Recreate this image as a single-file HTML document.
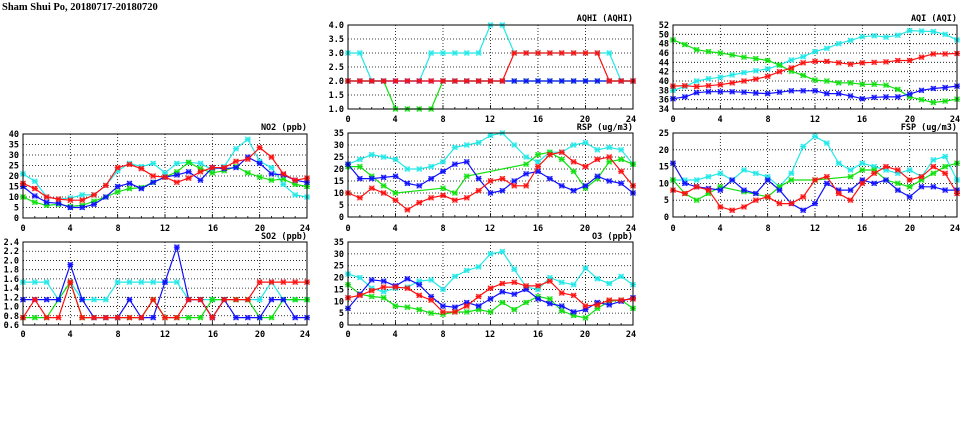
<!DOCTYPE html>
<html><head><meta charset="utf-8"><style>
body{margin:0;background:#fff;}
svg{display:block;font-family:"DejaVu Sans Mono","Liberation Mono",monospace;font-weight:bold;}
.t{font-size:8.5px;fill:#000;}
.yl{text-anchor:end;}
.xl{text-anchor:middle;}
.ti{text-anchor:end;font-size:8.5px;}
</style></head><body>
<svg id="s" width="975" height="447" viewBox="0 0 975 447" xmlns="http://www.w3.org/2000/svg">
<rect width="975" height="447" fill="#fff"/>
<g id="g"></g>
<text x="2" y="10" style="font-family:'Liberation Serif',serif;font-size:10.5px;font-weight:bold">Sham Shui Po, 20180717-20180720</text>
<g class="t">
<text class="ti" x="633" y="21">AQHI (AQHI)</text>
<text class="ti" x="957" y="21">AQI (AQI)</text>
<text class="ti" x="307" y="130">NO2 (ppb)</text>
<text class="ti" x="633" y="130">RSP (ug/m3)</text>
<text class="ti" x="957" y="130">FSP (ug/m3)</text>
<text class="ti" x="307" y="239">SO2 (ppb)</text>
<text class="ti" x="633" y="239">O3 (ppb)</text>
<g class="xl">
<text x="23" y="231">0</text><text x="70" y="231">4</text><text x="118" y="231">8</text><text x="165" y="231">12</text><text x="213" y="231">16</text><text x="260" y="231">20</text><text x="305" y="231">24</text>
<text x="23" y="337">0</text><text x="70" y="337">4</text><text x="118" y="337">8</text><text x="165" y="337">12</text><text x="213" y="337">16</text><text x="260" y="337">20</text><text x="305" y="337">24</text>
<text x="348" y="122">0</text><text x="395" y="122">4</text><text x="443" y="122">8</text><text x="490" y="122">12</text><text x="538" y="122">16</text><text x="585" y="122">20</text><text x="631" y="122">24</text>
<text x="348" y="231">0</text><text x="395" y="231">4</text><text x="443" y="231">8</text><text x="490" y="231">12</text><text x="538" y="231">16</text><text x="585" y="231">20</text><text x="631" y="231">24</text>
<text x="348" y="337">0</text><text x="395" y="337">4</text><text x="443" y="337">8</text><text x="490" y="337">12</text><text x="538" y="337">16</text><text x="585" y="337">20</text><text x="631" y="337">24</text>
<text x="673" y="122">0</text><text x="720" y="122">4</text><text x="768" y="122">8</text><text x="815" y="122">12</text><text x="862" y="122">16</text><text x="910" y="122">20</text><text x="955" y="122">24</text>
<text x="673" y="231">0</text><text x="720" y="231">4</text><text x="768" y="231">8</text><text x="815" y="231">12</text><text x="862" y="231">16</text><text x="910" y="231">20</text><text x="955" y="231">24</text>
</g>
<g class="yl">
<text x="19" y="137">40</text><text x="19" y="147.5">35</text><text x="19" y="158">30</text><text x="19" y="168.5">25</text><text x="19" y="179">20</text><text x="19" y="189.5">15</text><text x="19" y="200">10</text><text x="19" y="210.5">5</text><text x="19" y="221">0</text>
<text x="19" y="245">2.4</text><text x="19" y="254.2">2.2</text><text x="19" y="263.4">2.0</text><text x="19" y="272.7">1.8</text><text x="19" y="281.9">1.6</text><text x="19" y="291.1">1.4</text><text x="19" y="300.3">1.2</text><text x="19" y="309.6">1.0</text><text x="19" y="318.8">0.8</text><text x="19" y="328">0.6</text>
<text x="344" y="28">4.0</text><text x="344" y="42">3.5</text><text x="344" y="56">3.0</text><text x="344" y="70">2.5</text><text x="344" y="84">2.0</text><text x="344" y="98">1.5</text><text x="344" y="112">1.0</text>
<text x="344" y="136">35</text><text x="344" y="148">30</text><text x="344" y="160">25</text><text x="344" y="172">20</text><text x="344" y="184">15</text><text x="344" y="196">10</text><text x="344" y="208">5</text><text x="344" y="220">0</text>
<text x="344" y="245">35</text><text x="344" y="256.9">30</text><text x="344" y="268.7">25</text><text x="344" y="280.6">20</text><text x="344" y="292.4">15</text><text x="344" y="304.3">10</text><text x="344" y="316.1">5</text><text x="344" y="328">0</text>
<text x="669" y="28">52</text><text x="669" y="37.3">50</text><text x="669" y="46.7">48</text><text x="669" y="56">46</text><text x="669" y="65.3">44</text><text x="669" y="74.7">42</text><text x="669" y="84">40</text><text x="669" y="93.3">38</text><text x="669" y="102.7">36</text><text x="669" y="112">34</text>
<text x="669" y="136">25</text><text x="669" y="152.8">20</text><text x="669" y="169.6">15</text><text x="669" y="186.4">10</text><text x="669" y="203.2">5</text><text x="669" y="220">0</text>
</g>
</g>
</svg>
<script>
var NS="http://www.w3.org/2000/svg",G=document.getElementById("g");
function el(n,a){var e=document.createElementNS(NS,n);for(var k in a)e.setAttribute(k,a[k]);G.appendChild(e);return e;}
var C={c:"#22e8e8",r:"#ff1010",b:"#1010ff",g:"#10e010"};
function R(a){return a.map(function(v,i){return [i,v];});}
var P=[
{x0:23,x1:307,y0:134,y1:218,mn:0,mx:40,st:5,s:{
c:R([21,17.5,10,9,9.5,11,11,15.5,22.5,26,24.5,26,21.5,26,26.5,26,23,24.5,33,37.5,27,24,16,11,10]),
g:R([10,7.5,6,6.5,5.5,6,8,10,12.5,14,14.5,17,19.5,22,26.5,23.5,21.5,22.5,24.5,21.5,19.5,18,18.5,16,15]),
b:R([15,10.5,7.5,7,5,5,6.5,10,15,16.5,14,17,19.5,20.5,22,18,24,23.5,24,29,26,21,20.5,18,17]),
r:R([16.5,14,10,9,8.5,8.5,11,15.5,24,25.5,23.5,20,19.5,17,19,22,24,24,27,28,33.5,29,21,18,19])}},
{x0:23,x1:307,y0:242,y1:325,mn:0.6,mx:2.4,st:0.2,s:{
c:R([1.53,1.53,1.53,1.15,1.53,1.15,1.15,1.15,1.53,1.53,1.53,1.53,1.53,1.53,1.15,1.15,1.15,1.15,1.15,1.15,1.15,1.53,1.15,1.15,1.15]),
g:R([0.76,0.76,0.76,1.15,1.53,0.76,0.76,0.76,0.76,0.76,0.76,1.15,0.76,0.76,0.76,0.76,1.15,1.15,1.15,1.15,0.76,0.76,1.15,1.15,1.15]),
b:R([1.15,1.15,1.15,1.15,1.91,1.15,0.76,0.76,0.76,1.15,0.76,0.76,1.53,2.29,1.15,1.15,0.76,1.15,0.76,0.76,0.76,1.15,1.15,0.76,0.76]),
r:R([0.76,1.15,0.76,0.76,1.53,0.76,0.76,0.76,0.76,0.76,0.76,1.15,0.76,0.76,1.15,1.15,0.76,1.15,1.15,1.15,1.53,1.53,1.53,1.53,1.53])}},
{x0:348,x1:633,y0:25,y1:109,mn:1,mx:4,st:0.5,s:{
c:R([3,3,2,2,2,2,2,3,3,3,3,3,4,4,3,3,3,3,3,3,3,3,3,2,2]),
g:R([2,2,2,2,1,1,1,1,2,2,2,2,2,2,2,2,2,2,2,2,2,2,2,2,2]),
b:R([2,2,2,2,2,2,2,2,2,2,2,2,2,2,2,2,2,2,2,2,2,2,2,2,2]),
r:R([2,2,2,2,2,2,2,2,2,2,2,2,2,2,3,3,3,3,3,3,3,3,2,2,2])}},
{x0:348,x1:633,y0:133,y1:217,mn:0,mx:35,st:5,s:{
c:R([22,24,26,25,24,20,20,21,23,29,30,31,34,35,30,25,23,27,27,30,31,28,29,28,22]),
g:[[0,21],[1,21],[2,17],[3,13],[4,10],[8,12],[9,10],[10,17],[15,22],[16,26],[17,27],[18,24],[19,19],[20,12],[21,16],[22,23],[23,24],[24,22]],
b:R([22,16,16,16.5,17,14,13,16,19,22,23,16,10,11,15,18,19,16,13,11,13,17,15,14,10]),
r:R([10,8,12,10,7,3,6,8,9,7,8,11,15,16,13,13,21,26,27,23,21,24,25,19,13])}},
{x0:348,x1:633,y0:242,y1:325,mn:0,mx:35,st:5,s:{
c:R([21.5,20,15.5,14,15.5,16,18.5,19,15,20.5,23,24.5,30,31,23.5,16,15,20,18,17,24,19.5,17.5,20.5,17]),
g:R([17,13,12,11.5,8,7.5,6.5,5,4.5,5.5,5.5,6.5,5.5,9.5,6.5,9.5,12,11,6,4,3,7,10,10.5,7]),
b:R([7,13,19,18.5,16.5,19.5,17,12,8,7.5,9.5,8,11,14,13,15,11,9,8,5.5,6.5,9.5,8.5,10,11.5]),
r:R([11.5,12.5,14.5,16,16,15.5,12.5,10.5,5.5,5.5,8,12,15.5,17.5,18,16.5,16.5,18.5,13.5,12.5,8,8.5,10.5,10.5,11])}},
{x0:673,x1:957,y0:25,y1:109,mn:34,mx:52,st:2,s:{
c:R([38,38.8,40,40.5,40.8,41.3,41.8,42.2,42.6,43.4,44.5,45.2,46.3,47,48,48.7,49.5,49.7,49.4,49.8,50.8,50.7,50.6,50,48.8]),
g:R([48.8,47.8,46.7,46.3,46,45.6,45.1,44.8,44.4,43.4,42.1,41.2,40.2,40,39.6,39.6,39.3,39.3,39.1,38.2,36.6,36,35.4,35.7,36.1]),
b:R([36.2,36.6,37.5,37.7,37.7,37.7,37.6,37.4,37.3,37.6,37.9,37.9,37.9,37.3,37.3,36.8,36.2,36.5,36.6,36.6,37.2,38,38.4,38.6,38.9]),
r:R([38.9,39,38.8,39,39.2,39.6,40,40.4,41,42,42.8,43.9,44.2,44.2,43.9,43.6,43.9,44,44.1,44.4,44.4,45.1,45.8,45.8,45.9])}},
{x0:673,x1:957,y0:133,y1:217,mn:0,mx:25,st:5,s:{
c:R([11,11,11,12,13,11,14,13,12,9,13,21,24,22,16,14,16,15,14,13,14,12,17,18,11]),
g:[[0,11],[1,7],[2,5],[3,7],[4,9],[6,7.5],[8,6],[9,9],[10,11],[12,11],[15,12],[16,14],[17,14],[18,11],[19,10],[20,9],[21,11],[22,13],[23,15],[24,16]],
b:R([16,10,9,8.5,8,11,8,7,11,8,4,2,4,10,8,8,11,10,11,8,6,9,9,8,8]),
r:R([8,7,9,8,3,2,3,5,6,4,4,6,11,12,7,5,10,13,15,14,11,12,15,13,7])}}
];
P.forEach(function(p){
 var W=p.x1-p.x0,H=p.y1-p.y0;
 function X(h){return p.x0+h*W/24;}
 function Y(v){return p.y1-(v-p.mn)/(p.mx-p.mn)*H;}
 for(var h=4;h<24;h+=4)el("line",{x1:X(h),x2:X(h),y1:p.y0,y2:p.y1,stroke:"#000","stroke-width":0.8,"stroke-dasharray":"1,2"});
 var n=Math.round((p.mx-p.mn)/p.st);
 for(var i=1;i<n;i++){var y=Y(p.mn+i*p.st);el("line",{x1:p.x0,x2:p.x1,y1:y,y2:y,stroke:"#000","stroke-width":0.8,"stroke-dasharray":"1,2"});}
 for(var h=0;h<=24;h++)el("line",{x1:X(h),x2:X(h),y1:p.y1,y2:p.y1-(h%4?2:4),stroke:"#000","stroke-width":0.8});
 ["c","g","b","r"].forEach(function(k){
  var pts=p.s[k],col=C[k];
  el("polyline",{points:pts.map(function(q){return X(q[0]).toFixed(1)+","+Y(q[1]).toFixed(1);}).join(" "),fill:"none",stroke:col,"stroke-width":1.2});
  pts.forEach(function(q){var x=X(q[0]),y=Y(q[1]);
   el("rect",{x:x-2.5,y:y-2.5,width:5,height:5,fill:col,opacity:0.55});
   el("path",{d:"M"+(x-2.5)+","+(y-2.5)+"L"+(x+2.5)+","+(y+2.5)+"M"+(x-2.5)+","+(y+2.5)+"L"+(x+2.5)+","+(y-2.5)+"M"+(x-3)+","+y+"L"+(x+3)+","+y,stroke:col,"stroke-width":1});
  });
 });
 el("rect",{x:p.x0,y:p.y0,width:W,height:H,fill:"none",stroke:"#000","stroke-width":1});
});
</script>
</body></html>
